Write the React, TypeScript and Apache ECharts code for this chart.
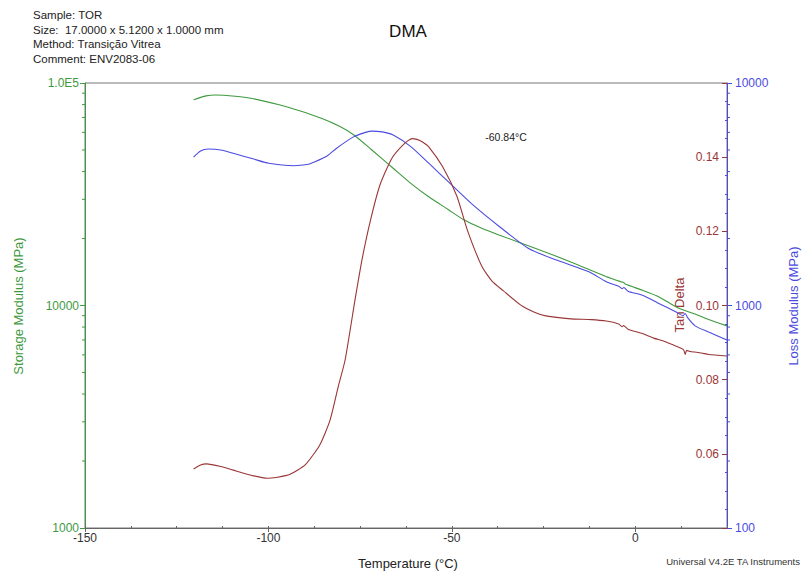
import React, { useEffect, useRef } from "react";
import * as echarts from "echarts";

// ---- data (temperature °C, value) ----
const storageModulus: [number, number][] = [
  [-120.4, 84000], [-117, 87500], [-114.4, 88300], [-109, 87200], [-104.8, 85400],
  [-95.1, 78200], [-85.4, 69300], [-80.5, 63700], [-76.7, 58400], [-71.8, 50000],
  [-66.0, 41400], [-61.2, 35400], [-56.3, 30800], [-51, 27000], [-46.6, 24200],
  [-42, 22300], [-37.0, 20700], [-27.3, 18100], [-17.6, 15700], [-8, 13500],
  [-4.0, 12800], [-3.2, 12700], [-2.6, 12450], [2, 11700], [6.6, 10900],
  [11.4, 9800], [16.3, 9150], [20, 8650], [25, 8100],
];

const lossModulus: [number, number][] = [
  [-120.4, 4640], [-118.5, 4950], [-116.4, 5050], [-113, 5000], [-109.6, 4830],
  [-104, 4550], [-99.9, 4355], [-93.1, 4250], [-89.5, 4300], [-87.3, 4430],
  [-84, 4700], [-81.5, 5080], [-76.7, 5740], [-73.5, 6000], [-71.8, 6080],
  [-69, 6030], [-66.0, 5840], [-61.2, 5180], [-56.3, 4360], [-50.5, 3540],
  [-43.7, 2780], [-37.0, 2260], [-29.2, 1810], [-21.5, 1600], [-12.8, 1420],
  [-7.9, 1280], [-4.5, 1220], [-3.6, 1190], [-3.1, 1205], [-2, 1160],
  [1.8, 1114], [6, 1030], [11.4, 930], [13, 900], [13.6, 920], [14.3, 880],
  [16.3, 810], [20, 760], [25, 700],
];

const tanDelta: [number, number][] = [
  [-120.4, 0.0559], [-118.5, 0.057], [-116.9, 0.0573], [-113, 0.0566], [-109.6, 0.0556],
  [-105, 0.0543], [-100.4, 0.0534], [-97.5, 0.0537], [-94.1, 0.0545], [-90.0, 0.057],
  [-86.0, 0.0624], [-83.2, 0.0691], [-81, 0.078], [-79.1, 0.0853], [-76.4, 0.1015],
  [-74.5, 0.1123], [-72.3, 0.1225], [-69.6, 0.1325], [-66.3, 0.1398], [-62.8, 0.1438],
  [-60.84, 0.145], [-59.5, 0.1448], [-58, 0.1441], [-56.3, 0.1428],
  [-52.5, 0.1374], [-48.6, 0.1294], [-45.8, 0.1204], [-41.8, 0.1105], [-39, 0.1065],
  [-36.0, 0.104], [-31.2, 0.1001], [-27.5, 0.0982], [-24.4, 0.0972], [-17.6, 0.0964],
  [-12, 0.0962], [-7.9, 0.0958], [-4.5, 0.095], [-3.6, 0.0943], [-3.2, 0.0946],
  [-2, 0.0936], [1.7, 0.0925], [5, 0.0912], [8, 0.0903], [10.5, 0.0893],
  [12.5, 0.0885], [13.2, 0.088], [13.6, 0.0868], [14.0, 0.0879], [15, 0.0876],
  [18, 0.0872], [20, 0.0868], [25, 0.0864],
];

const storageMinorTicks = [2000, 3000, 4000, 5000, 6000, 7000, 8000, 9000, 20000, 30000, 40000, 50000, 60000, 70000, 80000, 90000];
const lossMinorTicks = [200, 300, 400, 500, 600, 700, 800, 900, 2000, 3000, 4000, 5000, 6000, 7000, 8000, 9000];

const headerLines = [
  "Sample: TOR",
  "Size:  17.0000 x 5.1200 x 1.0000 mm",
  "Method: Transição Vitrea",
  "Comment: ENV2083-06",
];

const GREEN = "#3f9a3f";
const BLUE = "#4b4be0";
const RED = "#9a3636";
const AXIS_GRAY = "#666";
const FONT = "Liberation Sans, Arial, sans-serif";

export default function App() {
  const ref = useRef<HTMLDivElement>(null);
  useEffect(() => {
    if (!ref.current) return;
    const chart = echarts.init(ref.current, null, { renderer: "svg" });
    const tickSeries = (vals: number[], yIdx: number, xVal: number, dir: number, color: string) => ({
      type: "custom",
      xAxisIndex: 0,
      yAxisIndex: yIdx,
      clip: false,
      silent: true,
      z: 10,
      encode: { x: 0, y: 1 },
      data: vals.map((v) => [xVal, v]),
      renderItem: (_p: any, api: any) => {
        const pt = api.coord([api.value(0), api.value(1)]);
        return {
          type: "line",
          shape: { x1: pt[0], y1: pt[1], x2: pt[0] + dir * 3, y2: pt[1] },
          style: { stroke: color, lineWidth: 1 },
        };
      },
    });
    chart.setOption({
      animation: false,
      textStyle: { fontFamily: FONT },
      grid: { left: 85, right: 75, top: 83, bottom: 47, show: true, borderColor: "#777", borderWidth: 1 },
      xAxis: [
        {
          type: "value",
          min: -150,
          max: 25,
          interval: 12.5,
          position: "bottom",
          axisLine: { onZero: false, lineStyle: { color: AXIS_GRAY } },
          axisTick: { inside: true, length: 2, lineStyle: { color: AXIS_GRAY } },
          axisLabel: { show: false },
          splitLine: { show: false },
        },
        {
          type: "value",
          min: -150,
          max: 25,
          interval: 50,
          position: "bottom",
          axisLine: { show: false, onZero: false },
          axisTick: { length: 4, lineStyle: { color: AXIS_GRAY } },
          axisLabel: {
            color: "#333",
            fontSize: 12,
            fontFamily: FONT,
            margin: 4,
            showMaxLabel: false,
            formatter: (v: number) => (v % 50 === 0 ? String(v) : ""),
          },
          splitLine: { show: false },
        },
      ],
      yAxis: [
        {
          type: "log",
          logBase: 10,
          min: 1000,
          max: 100000,
          position: "left",
          axisLine: { show: true, onZero: false, lineStyle: { color: GREEN } },
          axisTick: { show: true, length: 5, lineStyle: { color: GREEN } },
          axisLabel: {
            color: GREEN,
            fontSize: 12,
            fontFamily: FONT,
            margin: 6,
            formatter: (v: number) => {
              const r = Math.round(v);
              return r === 100000 ? "1.0E5" : String(r);
            },
          },
          splitLine: { show: false },
        },
        {
          type: "log",
          logBase: 10,
          min: 100,
          max: 10000,
          position: "right",
          axisLine: { show: true, onZero: false, lineStyle: { color: BLUE } },
          axisTick: { show: true, length: 5, lineStyle: { color: BLUE } },
          axisLabel: {
            color: BLUE,
            fontSize: 12,
            fontFamily: FONT,
            margin: 8,
            formatter: (v: number) => String(Math.round(v)),
          },
          splitLine: { show: false },
        },
        {
          type: "value",
          min: 0.04,
          max: 0.16,
          interval: 0.02,
          position: "right",
          axisLine: { show: false, onZero: false },
          axisTick: { show: true, inside: true, length: 5, lineStyle: { color: RED } },
          minorTick: { show: true, splitNumber: 4, length: 2, lineStyle: { color: BLUE } },
          axisLabel: {
            inside: true,
            color: RED,
            fontSize: 12,
            fontFamily: FONT,
            margin: 8,
            showMinLabel: false,
            showMaxLabel: false,
            formatter: (v: number) => v.toFixed(2),
          },
          splitLine: { show: false },
        },
      ],
      series: [
        {
          name: "Storage Modulus",
          type: "line",
          xAxisIndex: 0,
          yAxisIndex: 0,
          data: storageModulus,
          showSymbol: false,
          smooth: 0.25,
          lineStyle: { color: GREEN, width: 1.1 },
        },
        {
          name: "Loss Modulus",
          type: "line",
          xAxisIndex: 0,
          yAxisIndex: 1,
          data: lossModulus,
          showSymbol: false,
          smooth: 0.25,
          lineStyle: { color: BLUE, width: 1.1 },
        },
        {
          name: "Tan Delta",
          type: "line",
          xAxisIndex: 0,
          yAxisIndex: 2,
          data: tanDelta,
          showSymbol: false,
          smooth: 0.2,
          lineStyle: { color: RED, width: 1.1 },
        },
        tickSeries(storageMinorTicks, 0, -150, -1, GREEN),
        tickSeries(lossMinorTicks, 1, 25, 1, BLUE),
      ],
      graphic: [
        ...headerLines.map((t, i) => ({
          type: "text",
          left: 33,
          top: 9 + i * 14.5,
          style: { text: t, fill: "#222", font: `11.5px ${FONT}` },
        })),
        {
          type: "text",
          x: 408,
          y: 31,
          style: { text: "DMA", fill: "#111", font: `17px ${FONT}`, align: "center", verticalAlign: "middle" },
        },
        {
          type: "text",
          x: 408,
          y: 563,
          style: { text: "Temperature (°C)", fill: "#222", font: `13px ${FONT}`, align: "center", verticalAlign: "middle" },
        },
        {
          type: "text",
          x: 800,
          y: 561,
          style: { text: "Universal V4.2E TA Instruments", fill: "#333", font: `9.5px ${FONT}`, align: "right", verticalAlign: "middle" },
        },
        {
          type: "text",
          x: 18,
          y: 306,
          rotation: Math.PI / 2,
          style: { text: "Storage Modulus (MPa)", fill: GREEN, font: `13px ${FONT}`, align: "center", verticalAlign: "middle" },
        },
        {
          type: "text",
          x: 793,
          y: 306,
          rotation: Math.PI / 2,
          style: { text: "Loss Modulus (MPa)", fill: BLUE, font: `13px ${FONT}`, align: "center", verticalAlign: "middle" },
        },
        {
          type: "text",
          x: 679,
          y: 305,
          rotation: Math.PI / 2,
          style: { text: "Tan Delta", fill: RED, font: `13px ${FONT}`, align: "center", verticalAlign: "middle" },
        },
        {
          type: "text",
          x: 506,
          y: 137,
          style: { text: "-60.84°C", fill: "#222", font: `10.5px ${FONT}`, align: "center", verticalAlign: "middle" },
        },
      ],
    });
    return () => chart.dispose();
  }, []);
  return <div ref={ref} style={{ position: "fixed", left: 0, top: 0, width: 802, height: 575, background: "#fff" }} />;
}
